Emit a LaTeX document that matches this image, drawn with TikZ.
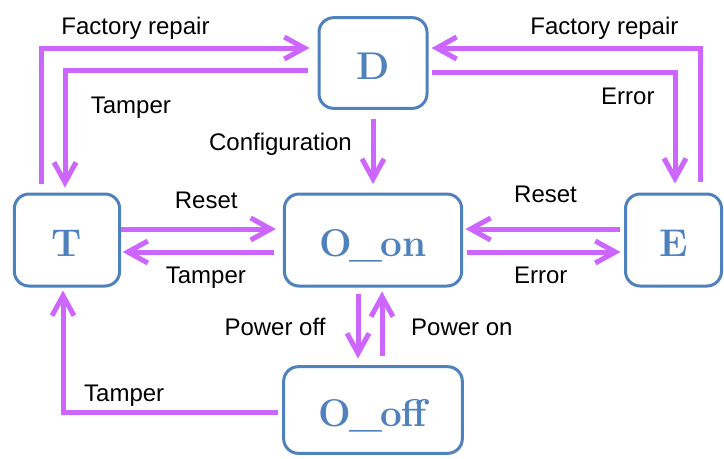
\documentclass[tikz,border=0pt]{standalone}
\usepackage{fontspec}
\usepackage{xcolor}
\usepackage{tikz}
\usetikzlibrary{arrows.meta, calc}
\newfontfamily\labelfont{Liberation Sans}
\newcommand{\usc}{\kern-1.5pt\_\kern-1.5pt}
\definecolor{boxblue}{RGB}{79,129,189}
\definecolor{arrviolet}{RGB}{204,102,255}
\tikzset{
    statebox/.style={
        rectangle, draw=boxblue, fill=white,
        minimum width=79pt, minimum height=69pt,
        text centered, rounded corners=11pt,
        font=\fontsize{29}{30}\selectfont\bfseries,
        text=boxblue, text height=25pt, text depth=0pt,
        line width=2.25pt,
    },
    widebox/.style={
        statebox, minimum width=133pt,
    },
    arr/.style={
        -{Straight Barb[length=15pt, width=16.5pt]}, line width=3.75pt, color=arrviolet
    },
    lbl/.style={
        font=\labelfont\fontsize{18}{20}\selectfont, text=black,
        text height=13pt, text depth=4pt, inner sep=2pt,
    },
}

\begin{document}
\begin{tikzpicture}[x=0.75pt, y=-0.75pt]

    \path[use as bounding box, fill=white] (0,0) rectangle (724,458);

    % ── States ──
    \node[statebox, minimum width=81pt, minimum height=68pt] (d) at (373, 63) {D};
    \node[statebox] (t) at (67, 240) {T};
    \node[widebox] (oon) at (373, 240) {O\usc on};
    \node[statebox, minimum width=72pt] (e) at (673.5, 240) {E};
    \node[widebox, minimum width=134pt, minimum height=65pt] (ooff) at (373, 410) {O\usc off};

    % ── Arrows: T <-> D ──
    \draw[arr] ($(t.north)+(-26,-9)$) |- ($(d.west)+(-8,-15)$)
        node[lbl, pos=0.676, above=2.5pt] {Factory repair};
    \draw[arr] ($(d.west)+(-10,7)$) -| ($(t.north)+(-2,-5)$)
        node[lbl, pos=0.661, right=15.5pt] {Tamper};

    % ── Arrows: E <-> D ──
    \draw[arr] ($(e.north)+(26.5,-11)$) |- ($(d.east)+(3,-15)$)
        node[lbl, pos=0.678, above=2.5pt] {Factory repair};
    \draw[arr] ($(d.east)+(3,9)$) -| ($(e.north)+(1.5,-9)$)
        node[lbl, pos=0.621, left=11.5pt] {Error};

    % ── Arrow: D -> O_on ──
    \draw[arr] ($(d.south)+(0,9)$) -- ($(oon.north)+(0,-8.5)$)
        node[lbl, pos=0.388, left=12pt] {Configuration};

    % ── Arrows: T <-> O_on ──
    \draw[arr] ($(t.east)+(0,-11)$) -- ($(oon.west)+(-7,-11)$)
        node[lbl, pos=0.55, above=7.7pt] {Reset};
    \draw[arr] ($(oon.west)+(-9,12)$) -- ($(t.east)+(1.5,12)$)
        node[lbl, pos=0.45, below=6.75pt] {Tamper};

    % ── Arrows: E <-> O_on ──
    \draw[arr] ($(e.west)+(-4.5,-11)$) -- ($(oon.east)+(2.3,-11)$)
        node[lbl, pos=0.48, above=12pt] {Reset};
    \draw[arr] ($(oon.east)+(4,12)$) -- ($(e.west)+(-3.5,12)$)
        node[lbl, pos=0.48, below=6.5pt] {Error};

    % ── Arrows: O_on <-> O_off ──
    \draw[arr] ($(oon.south)+(-15,6)$) -- ($(ooff.north)+(-15,-6.7)$)
        node[lbl, pos=0.55, left=20.5pt] {Power off};
    \draw[arr] ($(ooff.north)+(9,-8.7)$) -- ($(oon.south)+(9,4)$)
        node[lbl, pos=0.42, right=18pt] {Power on};

    % ── Arrow: O_off -> T ──
    \draw[arr] ($(ooff.west)+(-3.7,2)$) -| ($(t.south)+(-4,3)$)
        node[lbl, pos=0.358, above] {Tamper};

\end{tikzpicture}
\end{document}
